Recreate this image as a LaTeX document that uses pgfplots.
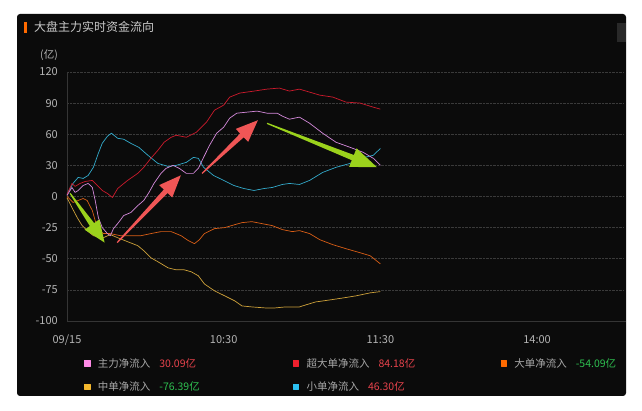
\documentclass[border=0pt]{standalone}
\usepackage{fontspec}
\setmainfont{Noto Sans CJK SC}
\usepackage{pgfplots}
\pgfplotsset{compat=1.18}
\usetikzlibrary{calc}
\definecolor{panel}{HTML}{0B0B0B}
\definecolor{gridc}{HTML}{3A3A3A}
\definecolor{axc}{HTML}{353535}
\definecolor{tickc}{HTML}{B4B4B4}
\definecolor{titlec}{HTML}{C8C8C8}
\definecolor{legc}{HTML}{A8A8A8}
\definecolor{valred}{HTML}{E8434C}
\definecolor{valgreen}{HTML}{2EC050}
\definecolor{lviolet}{HTML}{D58ADB}
\definecolor{lred}{HTML}{CC1A2C}
\definecolor{lorange}{HTML}{DA5E16}
\definecolor{lyellow}{HTML}{CDA13A}
\definecolor{lcyan}{HTML}{33AACB}
\definecolor{mviolet}{HTML}{FF8AE6}
\definecolor{mred}{HTML}{F0202E}
\definecolor{morange}{HTML}{FF6A00}
\definecolor{myellow}{HTML}{F5B82E}
\definecolor{mcyan}{HTML}{2CC0F2}
\definecolor{arred}{HTML}{F05656}
\definecolor{argreen}{HTML}{9BD21C}
\newcommand{\fatarrow}[6]{%
  \coordinate (H) at ($(#3)!#4!(#2)$);
  \fill[#1] ($(#2)!0.6pt!90:(#3)$) -- ($(H)!#6!90:(#3)$) -- ($(H)!#5!90:(#3)$) -- (#3)
    -- ($(H)!#5!-90:(#3)$) -- ($(H)!#6!-90:(#3)$) -- ($(#2)!0.6pt!-90:(#3)$) -- cycle;}
\begin{document}
\begin{tikzpicture}[x=1pt,y=1pt]
\useasboundingbox (0,0) rectangle (642,411);
\fill[white] (0,0) rectangle (642,411);
\fill[panel, rounded corners=3pt] (17,15) rectangle (626,397);
\fill[black!84!white] (617,369) rectangle (626,388);
\fill[morange] (24,378) rectangle (27,389);
\node[anchor=west, inner sep=0pt, text=titlec, font=\fontsize{12}{14}\selectfont] at (34,384) {大盘主力实时资金流向};
\node[inner sep=0pt, text=tickc, font=\fontsize{10.5}{12}\selectfont] at (49,356) {(亿)};
\begin{axis}[
  at={(67pt,90pt)}, anchor=south west,
  scale only axis, width=557pt, height=249pt,
  xmin=0, xmax=213.3, ymin=-4, ymax=4,
  y filter/.expression={y>0 ? y/30 : y/25},
  axis x line*=bottom, axis y line*=left,
  axis line style={draw=axc, line width=0.8pt, -},
  x axis line style={shorten >=-2pt},
  major tick length=0pt,
  xtick={0,60,120,180}, xticklabels={09/15,10:30,11:30,14:00},
  ytick={-4,-3,-2,-1,0,1,2,3,4},
  yticklabels={-100,-75,-50,-25,0,30,60,90,120},
  ymajorgrids, grid style={gridc, densely dotted, line width=0.6pt},
  /pgf/number format/assume math mode=true,
  xticklabel style={anchor=base, inner sep=0pt, yshift=-23pt, text=tickc, font=\fontsize{11}{13}\selectfont},
  yticklabel style={anchor=base east, inner sep=0pt, xshift=-9pt, yshift=-4pt, text=tickc, font=\fontsize{11}{13}\selectfont},
  clip=false,
  legend columns=3,
  legend cell align=left,
  legend style={at={(axis description cs:0.0305,-0.1486)}, anchor=north west, draw=none, fill=none,
    inner sep=0pt, row sep=13pt, column sep=0pt, nodes={inner sep=0pt, text=legc, font=\fontsize{10.5}{12}\selectfont}},
  every axis plot/.append style={line width=0.7pt, line join=round},
]
\addplot[lcyan, forget plot] coordinates {(0,2) (2.3,12.6) (4.3,18.4) (6.2,17.4) (8.1,20.3) (10.1,28.1) (12,41.6) (13.5,51.3) (15.5,58.1) (17,61) (19.4,56.1) (21.7,55.2) (24.4,51.3) (27.5,47.4) (31,39.7) (34.8,31.9) (38.7,29) (41.8,30) (45.7,32.9) (48.4,37.7) (50.3,36.8) (52.3,28.1) (56.1,20.3) (60,15.5) (63.9,10.6) (67.7,7.7) (71.6,5.8) (75.5,7.7) (78.6,8.7) (82.5,11.6) (85.2,12.6) (89,11.6) (92.9,15.5) (97.9,23.2) (103,28.1) (108.4,31.9) (112.3,36.8) (117.3,39.7) (120,46.3)};
\addplot[lred, forget plot] coordinates {(0,2) (1.9,12.6) (3.1,9.7) (5,12.6) (7,14.5) (9.7,15.5) (11.6,10.6) (13.5,5.8) (15.5,2.9) (17.4,-0.8) (19.4,7.7) (23.2,15.5) (27.1,22.3) (29.4,28.1) (32.1,36.8) (34.8,44.5) (37.2,52.3) (39.9,57.1) (41.8,59) (45.7,57.1) (49.5,61.9) (53.4,71.6) (56.5,83.2) (60,88.1) (62.3,95.8) (66.2,99.7) (71.6,101.6) (76.6,103.5) (81.3,104.5) (85.2,101.6) (89,103.5) (92.9,100.6) (96.8,97.7) (101.8,95.8) (106.8,91) (112.3,90) (117.3,86.1) (120,84.18)};
\addplot[lorange, forget plot] coordinates {(0,0) (2.3,-4.8) (4.3,-3.2) (6.2,-1.6) (7.7,-3.2) (9.7,-11.3) (10.8,-19.4) (12,-25.8) (13.9,-29.8) (16.6,-29.8) (20.5,-31.5) (24.4,-31.5) (28.3,-31.5) (32.1,-29.8) (36,-28.2) (39.9,-28.2) (43.7,-31.5) (46.5,-35.5) (48.8,-37.9) (50.7,-34.7) (52.6,-29.8) (56.5,-25.8) (60.4,-25) (64.3,-22.6) (67,-21) (70.8,-20.2) (74.7,-21.8) (78.6,-23.4) (82.5,-26.6) (86.3,-28.2) (89,-27.4) (92.9,-29.8) (96.8,-34.7) (101.8,-38.7) (106.8,-41.9) (112.3,-45.2) (116.1,-47.6) (120,-54.09)};
\addplot[lyellow, forget plot] coordinates {(0,-1) (1.9,-8.9) (3.9,-16.9) (5.8,-23.4) (7.7,-27.4) (10.1,-31.5) (13.9,-33.1) (16.6,-30.6) (19.4,-33.1) (23.2,-36.3) (27.1,-39.5) (29.4,-43.5) (32.1,-49.2) (34.8,-52.4) (38.7,-57.3) (41.8,-58.9) (44.9,-58.9) (47.6,-60.5) (50.3,-63.7) (52.6,-70.2) (56.5,-75.8) (60.4,-79.8) (64.3,-83.9) (67,-87.9) (70.8,-88.7) (75.9,-89.5) (79.7,-89.5) (83.6,-88.7) (89,-88.7) (91.4,-87.1) (95.2,-84.7) (100.6,-83.1) (105.7,-81.5) (110.7,-79.8) (116.1,-77.4) (120,-76.39)};
\addplot[lviolet, forget plot] coordinates {(0,1) (1.9,8.7) (3.1,3.9) (4.3,5.8) (6.2,10.6) (8.1,12.6) (9.7,8.7) (10.8,-3.2) (12,-16.9) (13.5,-25) (15.5,-29.8) (16.6,-31.5) (17.8,-25.8) (19.7,-21) (21.7,-15.3) (24.4,-12.9) (27.1,-7.3) (29.4,-3.2) (31.4,3.9) (33.3,12.6) (36,22.3) (37.9,27.1) (40.6,30) (43,27.1) (45.7,22.3) (48.4,22.3) (50.3,27.1) (52.3,37.7) (54.6,49.4) (57.3,61) (60,66.8) (62.3,75.5) (65,80.3) (68.9,81.3) (72.8,82.3) (76.6,80.3) (80.5,80.3) (82.5,77.4) (85.2,74.5) (89,76.5) (92.9,70.6) (97.9,61) (103,52.3) (108.4,47.4) (113.4,42.6) (117.3,36.8) (120,30.09)};
\addlegendimage{legend image code/.code={\fill[mviolet] (0pt,-2.8pt) rectangle (5.6pt,2.8pt); \path (13pt,0pt);}}
\addlegendentry{\makebox[195pt][l]{主力净流入\hspace{9pt}\textcolor{valred}{30.09亿}}}
\addlegendimage{legend image code/.code={\fill[mred] (0pt,-2.8pt) rectangle (5.6pt,2.8pt); \path (13pt,0pt);}}
\addlegendentry{\makebox[194pt][l]{超大单净流入\hspace{9pt}\textcolor{valred}{84.18亿}}}
\addlegendimage{legend image code/.code={\fill[morange] (0pt,-2.8pt) rectangle (5.6pt,2.8pt); \path (13pt,0pt);}}
\addlegendentry{大单净流入\hspace{9pt}\textcolor{valgreen}{-54.09亿}}
\addlegendimage{legend image code/.code={\fill[myellow] (0pt,-2.8pt) rectangle (5.6pt,2.8pt); \path (13pt,0pt);}}
\addlegendentry{\makebox[195pt][l]{中单净流入\hspace{9pt}\textcolor{valgreen}{-76.39亿}}}
\addlegendimage{legend image code/.code={\fill[mcyan] (0pt,-2.8pt) rectangle (5.6pt,2.8pt); \path (13pt,0pt);}}
\addlegendentry{\makebox[194pt][l]{小单净流入\hspace{9pt}\textcolor{valred}{46.30亿}}}
\coordinate (g1t) at (axis cs:1.2,0.1);
\coordinate (g1p) at (axis cs:14.4,-1.48);
\coordinate (r1t) at (axis cs:19.2,-1.48);
\coordinate (r1p) at (axis cs:43.6,0.68);
\coordinate (r2t) at (axis cs:51.7,0.74);
\coordinate (r2p) at (axis cs:73.1,2.45);
\coordinate (g2t) at (axis cs:76.6,2.35);
\coordinate (g2p) at (axis cs:118.7,0.94);
\end{axis}
\fatarrow{argreen}{g1t}{g1p}{22pt}{9pt}{2.6pt}
\fatarrow{arred}{r1t}{r1p}{22pt}{9pt}{2.6pt}
\fatarrow{arred}{r2t}{r2p}{22pt}{9pt}{2.6pt}
\fatarrow{argreen}{g2t}{g2p}{26pt}{10pt}{2.8pt}
\end{tikzpicture}
\end{document}
